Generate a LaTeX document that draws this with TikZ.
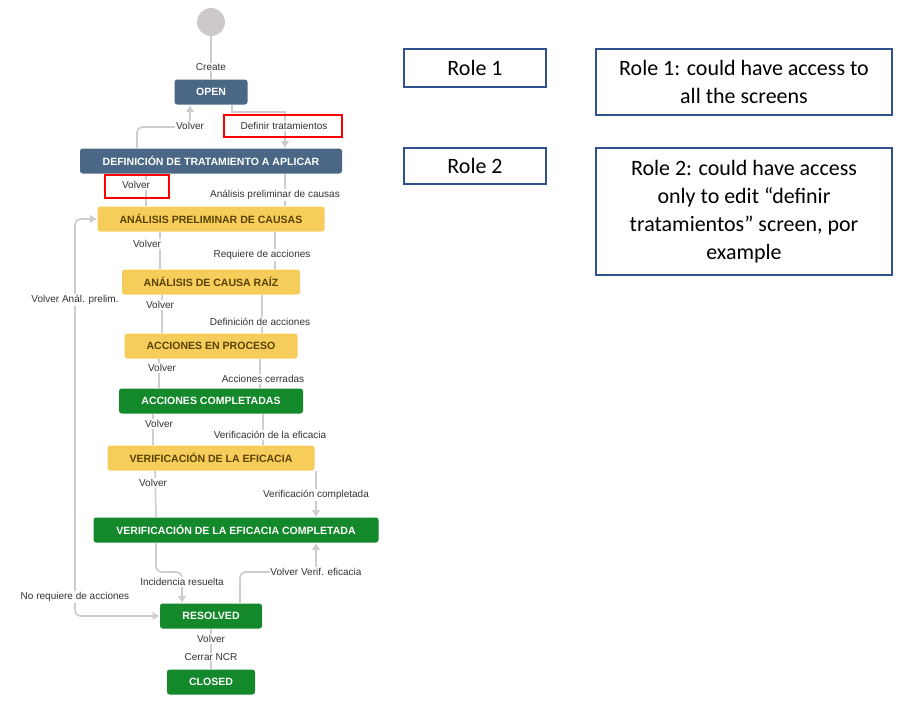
\documentclass[tikz,border=0pt]{standalone}
\usepackage{fontspec}
\setmainfont{Liberation Sans}
\newfontfamily\calib{Carlito}
\usetikzlibrary{positioning,arrows.meta}
\definecolor{openblue}{RGB}{74,103,133}
\definecolor{progyellow}{RGB}{246,205,90}
\definecolor{progtext}{RGB}{89,67,0}
\definecolor{donegreen}{RGB}{20,137,44}
\definecolor{linegray}{RGB}{205,205,205}
\definecolor{startgray}{RGB}{204,200,204}
\definecolor{labelgray}{RGB}{51,51,51}
\definecolor{roleblue}{RGB}{47,82,143}

\tikzset{
  state/.style={rounded corners=1.5pt, minimum height=25*0.02cm, inner sep=0pt, font=\fontsize{6}{7}\selectfont\bfseries},
  todo/.style={state, fill=openblue, text=white},
  prog/.style={state, fill=progyellow, text=progtext},
  done/.style={state, fill=donegreen, text=white},
  lbl/.style={font=\fontsize{5.7}{6}\selectfont, text=labelgray, fill=white, inner sep=0.5pt},
  flow/.style={draw=linegray, line width=0.9pt},
  tip/.style={flow, -{Latex[length=4pt,width=5pt]}},
  role/.style={draw=roleblue, line width=0.8pt, align=center, font=\calib\fontsize{12.5}{16}\selectfont},
  redbox/.style={draw=red, line width=1pt}
}

\begin{document}
\begin{tikzpicture}[x=0.02cm, y=-0.02cm]
    \useasboundingbox (0,0) rectangle (911,711);

    % Workflow states
    \node[circle, fill=startgray, minimum size=28*0.02cm, inner sep=0pt] (start) at (211,22) {};
    \node[todo, minimum width=73*0.02cm] (open) at (211,92) {OPEN};
    \node[todo, minimum width=262*0.02cm] (def) at (211,161) {DEFINICIÓN DE TRATAMIENTO A APLICAR};
    \node[prog, minimum width=227*0.02cm] (apc) at (211,219) {ANÁLISIS PRELIMINAR DE CAUSAS};
    \node[prog, minimum width=178*0.02cm] (acr) at (211,282) {ANÁLISIS DE CAUSA RAÍZ};
    \node[prog, minimum width=173*0.02cm] (aep) at (211,346) {ACCIONES EN PROCESO};
    \node[done, minimum width=184*0.02cm] (acc) at (211,401) {ACCIONES COMPLETADAS};
    \node[prog, minimum width=207*0.02cm] (ver) at (211,458) {VERIFICACIÓN DE LA EFICACIA};
    \node[done, minimum width=285*0.02cm] (vec) at (236,530) {VERIFICACIÓN DE LA EFICACIA COMPLETADA};
    \node[done, minimum width=102*0.02cm] (res) at (211,616) {RESOLVED};
    \node[done, minimum width=88*0.02cm] (closed) at (211,682) {CLOSED};

    % Transitions
    \draw[flow] (start) -- (open);
    \draw[tip] (open.south -| 232,0) |- (285,112) -- (def.north -| 285,0);
    \draw[tip, rounded corners=3pt] (def.north -| 137,0) |- (190,127) -- (open.south -| 190,0);
    \draw[flow] (def.south -| 146,0) -- (apc.north -| 146,0);
    \draw[flow] (def.south -| 285,0) -- (apc.north -| 285,0);
    \draw[flow] (apc.south -| 160,0) -- (acr.north -| 160,0);
    \draw[flow] (apc.south -| 275,0) -- (acr.north -| 275,0);
    \draw[flow] (acr.south -| 162,0) -- (aep.north -| 162,0);
    \draw[flow] (acr.south -| 262,0) -- (aep.north -| 262,0);
    \draw[flow] (aep.south -| 159,0) -- (acc.north -| 159,0);
    \draw[flow] (aep.south -| 260,0) -- (acc.north -| 260,0);
    \draw[flow] (acc.south -| 153,0) -- (ver.north -| 153,0);
    \draw[flow] (acc.south -| 263,0) -- (ver.north -| 263,0);
    \draw[flow, rounded corners=3pt] (ver.south -| 155,0) -- (vec.north -| 156,0);
    \draw[tip] (ver.south -| 316,0) -- (vec.north -| 316,0);
    \draw[tip, rounded corners=3pt] (vec.south -| 156,0) |- (182,572) -- (res.north -| 182,0);
    \draw[tip, rounded corners=3pt] (res.north -| 240,0) |- (260,572) -| (vec.south -| 316,0);
    \draw[flow] (res) -- (closed);
    \coordinate (loop) at (75,420);
    \draw[tip, rounded corners=3pt] (loop) |- (apc.west);
    \draw[tip, rounded corners=3pt] (loop) |- (res.west);

    % Transition labels
    \node[lbl] (lcreate) at (211,67) {Create};
    \node[lbl] (lvolver1) at (190,126) {Volver};
    \node[lbl] (ldefinir) at (284,126) {Definir tratamientos};
    \node[lbl] (lvolver2) at (136,185) {Volver};
    \node[lbl] (lanalisis) at (275,195) {Análisis preliminar de causas};
    \node[lbl] (lvolver3) at (147,244) {Volver};
    \node[lbl] (lrequiere) at (262,255) {Requiere de acciones};
    \node[lbl] (lvolveranal) at (75,300) {Volver Anál. prelim.};
    \node[lbl] (lvolver4) at (160,305) {Volver};
    \node[lbl] (ldefacc) at (260,322) {Definición de acciones};
    \node[lbl] (lvolver5) at (162,368) {Volver};
    \node[lbl] (lcerradas) at (263,379) {Acciones cerradas};
    \node[lbl] (lvolver6) at (159,424) {Volver};
    \node[lbl] (lverif) at (270,435) {Verificación de la eficacia};
    \node[lbl] (lvolver7) at (153,483) {Volver};
    \node[lbl] (lvercomp) at (316,495) {Verificación completada};
    \node[lbl] (lincid) at (182,582) {Incidencia resuelta};
    \node[lbl] (lvolververif) at (316,572) {Volver Verif. eficacia};
    \node[lbl] (lnoreq) at (75,597) {No requiere de acciones};
    \node[lbl] (lvolver8) at (211,639) {Volver};
    \node[lbl] (lcerrar) at (211,657) {Cerrar NCR};

    % Highlights
    \draw[redbox] (224,115) rectangle (342,137);
    \draw[redbox] (105,175) rectangle (169,198);

    % Roles
    \node[role, minimum width=142*0.02cm, minimum height=38*0.02cm] (role1) at (475,68) {Role 1};
    \node[role, minimum width=142*0.02cm, minimum height=36*0.02cm] (role2) at (475,166) {Role 2};
    \node[role, minimum width=296*0.02cm, minimum height=66*0.02cm] (desc1) at (744,82)
        {Role 1: could have access to\\ all the screens};
    \node[role, minimum width=296*0.02cm, minimum height=127*0.02cm] (desc2) at (744,211.5)
        {Role 2: could have access\\ only to edit “definir\\ tratamientos” screen, por\\ example};
\end{tikzpicture}
\end{document}
